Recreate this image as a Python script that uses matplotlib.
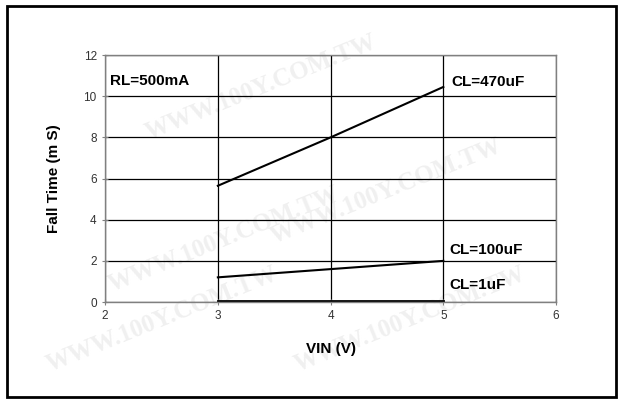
import numpy as np
import matplotlib.pyplot as plt
from matplotlib.patches import Rectangle

# data
vin = [3, 4, 5]
cl470 = [5.65, 8.0, 10.45]
cl100 = [1.2, 1.6, 2.0]
cl1 = [0.05, 0.05, 0.05]
xticks = [2, 3, 4, 5, 6]
yticks = [0, 2, 4, 6, 8, 10, 12]

plt.rcParams['font.family'] = ['Liberation Sans', 'DejaVu Sans']

fig = plt.figure(figsize=(6.22, 3.99), dpi=100)
fig.patch.set_facecolor('white')

# background layer for the faint watermarks
bg = fig.add_axes([0, 0, 1, 1], zorder=-1)
bg.set_axis_off()
bg.set_xlim(0, 1)
bg.set_ylim(0, 1)
wm = 'WWW.100Y.COM.TW'
for (x, y) in [(0.42, 0.78), (0.62, 0.52), (0.36, 0.4), (0.66, 0.2), (0.26, 0.2)]:
    bg.text(x, y, wm, rotation=22, color='#f0f0f0', fontsize=18, fontweight='bold',
            family='Liberation Serif', ha='center', va='center')

# outer frame
bg.add_patch(Rectangle((0.011, 0.006), 0.98, 0.98, fill=False,
                       edgecolor='black', linewidth=2))

ax = fig.add_axes([0.169, 0.243, 0.725, 0.619])
ax.set_facecolor('none')
ax.set_xlim(2, 6)
ax.set_ylim(0, 12)
ax.set_xticks(xticks)
ax.set_yticks(yticks)
ax.grid(True, color='black', linewidth=0.9)
ax.set_axisbelow(True)
for s in ax.spines.values():
    s.set_color('#808080')
    s.set_linewidth(1)
ax.tick_params(direction='inout', length=5, color='#808080', labelsize=8.5,
               labelcolor='#333333')

ax.plot(vin, cl470, color='black', linewidth=1.5)
ax.plot(vin, cl100, color='black', linewidth=1.5)
ax.plot(vin, cl1, color='black', linewidth=2)

ax.text(2.04, 10.75, 'RL=500mA', fontsize=11, fontweight='bold', va='center')
ax.text(5.07, 10.7, 'CL=470uF', fontsize=11, fontweight='bold', va='center')
ax.text(5.05, 2.55, 'CL=100uF', fontsize=11, fontweight='bold', va='center')
ax.text(5.05, 0.83, 'CL=1uF', fontsize=11, fontweight='bold', va='center')

ax.set_xlabel('VIN (V)', fontsize=11, fontweight='bold', labelpad=14)
ax.set_ylabel('Fall Time (m S)', fontsize=11, fontweight='bold', labelpad=16)

fig.savefig('out.png', dpi=100)
